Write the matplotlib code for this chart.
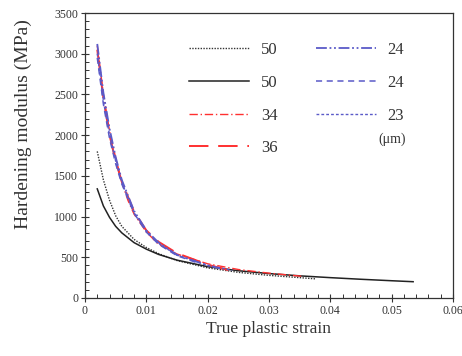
import matplotlib
matplotlib.use("Agg")
import matplotlib.pyplot as plt
from matplotlib.ticker import MultipleLocator, FuncFormatter

plt.rcParams['font.family'] = ['Liberation Serif', 'DejaVu Serif']

# Data (true plastic strain, hardening modulus MPa)
x_dot50 = [0.002, 0.003, 0.004, 0.005, 0.006, 0.008, 0.010, 0.012, 0.015, 0.020, 0.025, 0.030, 0.035, 0.0376]
y_dot50 = [1800, 1450, 1200, 1010, 880, 720, 620, 545, 460, 370, 315, 278, 250, 235]

x_sol50 = [0.002, 0.003, 0.004, 0.005, 0.006, 0.008, 0.010, 0.012, 0.015, 0.020, 0.025, 0.030, 0.035, 0.040, 0.045, 0.050, 0.0535]
y_sol50 = [1340, 1130, 990, 880, 800, 680, 600, 535, 465, 385, 335, 300, 272, 250, 230, 212, 200]

x_dd34 = [0.002, 0.003, 0.004, 0.005, 0.006, 0.007, 0.008, 0.010, 0.012, 0.015, 0.020, 0.025, 0.030, 0.0356]
y_dd34 = [3100, 2500, 2050, 1720, 1420, 1200, 1030, 810, 660, 540, 420, 350, 305, 265]

x_ld36 = [0.002, 0.003, 0.004, 0.005, 0.006, 0.008, 0.010, 0.012, 0.015, 0.020, 0.0245]
y_ld36 = [3050, 2450, 2000, 1680, 1430, 1060, 830, 690, 550, 410, 320]

x_ddd24 = [0.002, 0.003, 0.004, 0.005, 0.006, 0.008, 0.010, 0.012, 0.015, 0.020, 0.022]
y_ddd24 = [3120, 2520, 2080, 1730, 1450, 1070, 830, 680, 530, 400, 365]

x_da24 = [0.002, 0.003, 0.004, 0.005, 0.006, 0.008, 0.010, 0.012, 0.015, 0.018]
y_da24 = [2950, 2380, 1960, 1650, 1400, 1040, 810, 660, 520, 440]

x_dt23 = [0.002, 0.003, 0.004, 0.005, 0.006, 0.008, 0.010, 0.012, 0.015, 0.020, 0.024]
y_dt23 = [3000, 2420, 2000, 1680, 1420, 1050, 820, 670, 525, 400, 340]

labels = ['50', '50', '34', '36', '24', '24', '23']

red = '#ff3030'
blue = '#5a5ac8'

fig = plt.figure(figsize=(4.62, 3.56), dpi=100)
ax = fig.add_axes([85/462, 1-298/356, (453-85)/462, (298-13)/356])

ax.plot(x_dot50, y_dot50, color='#333333', lw=1.0, linestyle=(0, (1, 1)), label=labels[0])
ax.plot(x_sol50, y_sol50, color='#222222', lw=1.1, linestyle='-', label=labels[1])
ax.plot(x_dd34, y_dd34, color=red, lw=1.0, linestyle=(0, (6, 2, 1, 2)), label=labels[2])
ax.plot(x_ld36, y_ld36, color=red, lw=1.4, linestyle=(0, (10, 5)), label=labels[3])
ax.plot(x_ddd24, y_ddd24, color=blue, lw=1.3, linestyle=(0, (6, 1.5, 1, 1.5, 1, 1.5)), label=labels[4])
ax.plot(x_da24, y_da24, color=blue, lw=1.1, linestyle=(0, (4, 3)), label=labels[5])
ax.plot(x_dt23, y_dt23, color=blue, lw=1.0, linestyle=(0, (2, 1.5)), label=labels[6])

ax.set_xlim(0, 0.06)
ax.set_ylim(0, 3500)
ax.xaxis.set_major_locator(MultipleLocator(0.01))
ax.xaxis.set_minor_locator(MultipleLocator(0.002))
ax.yaxis.set_major_locator(MultipleLocator(500))
ax.yaxis.set_minor_locator(MultipleLocator(100))
ax.xaxis.set_major_formatter(FuncFormatter(lambda v, p: '0' if abs(v) < 1e-9 else f'{v:.2f}'))
ax.tick_params(which='major', direction='inout', length=6, width=0.8, labelsize=8.5, colors='#333333', pad=2)
ax.tick_params(which='minor', direction='in', length=3, width=0.7, colors='#333333')
for s in ax.spines.values():
    s.set_color('#333333')
    s.set_linewidth(0.9)

ax.set_xlabel('True plastic strain', fontsize=12.5, color='#333333', labelpad=3)
ax.set_ylabel('Hardening modulus (MPa)', fontsize=14, color='#333333')
ax.yaxis.set_label_coords(-0.145, 0.61)

leg = ax.legend(ncol=2, loc='upper left', bbox_to_anchor=(0.243, 0.95), frameon=False,
                fontsize=12, handlelength=3.6, handletextpad=0.7, columnspacing=2.3,
                labelspacing=1.0, labelcolor='#333333')
ax.text(0.835, 0.545, '(μm)', transform=ax.transAxes, fontsize=10, color='#333333', ha='center')

fig.savefig('out.png', dpi=100)
